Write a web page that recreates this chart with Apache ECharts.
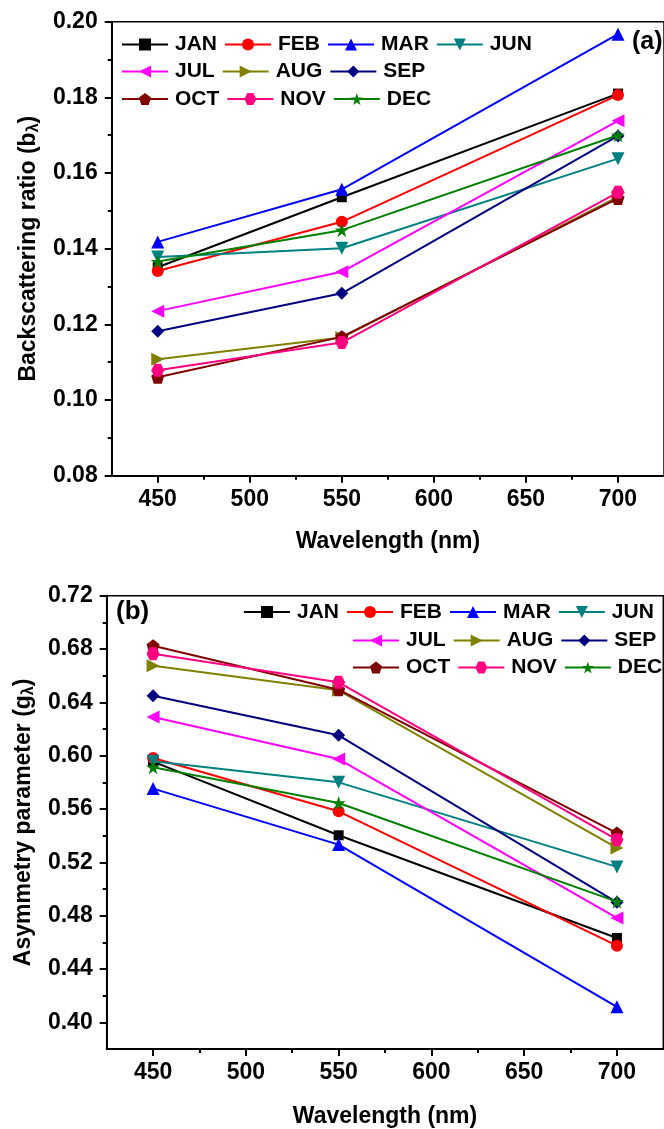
<!DOCTYPE html>
<html>
<head>
<meta charset="utf-8">
<script src="https://cdn.jsdelivr.net/npm/echarts@6/dist/echarts.min.js"></script>
<style>html,body{margin:0;padding:0;background:#fff}#c{width:664px;height:1129px}</style>
</head>
<body>
<div id="c"></div>
<script>
// ---- data ----
const wavelengths = [450, 550, 700];
const months = ['JAN','FEB','MAR','JUN','JUL','AUG','SEP','OCT','NOV','DEC'];
const xTickLabels = [450, 500, 550, 600, 650, 700];
const xMinorTicks = [475, 525, 575, 625, 675];
const yTicksA = [0.08, 0.10, 0.12, 0.14, 0.16, 0.18, 0.20];
const yTicksB = [0.40, 0.44, 0.48, 0.52, 0.56, 0.60, 0.64, 0.68, 0.72];
const yMinorB = [0.42, 0.46, 0.50, 0.54, 0.58, 0.62, 0.66, 0.70];

// Backscattering ratio (panel a)
const bJAN = [0.1351, 0.1536, 0.1810];
const bFEB = [0.1341, 0.1471, 0.1806];
const bMAR = [0.1418, 0.1557, 0.1967];
const bJUN = [0.1378, 0.1401, 0.1638];
const bJUL = [0.1235, 0.1339, 0.1738];
const bAUG = [0.1108, 0.1165, 0.1537];
const bSEP = [0.1182, 0.1282, 0.1698];
const bOCT = [0.1060, 0.1167, 0.1533];
const bNOV = [0.1079, 0.1152, 0.1549];
const bDEC = [0.1366, 0.1449, 0.1700];

// Asymmetry parameter (panel b)
const gJAN = [0.5955, 0.5403, 0.4633];
const gFEB = [0.5983, 0.5583, 0.4575];
const gMAR = [0.5753, 0.5333, 0.4116];
const gJUN = [0.5958, 0.5800, 0.5166];
const gJUL = [0.6290, 0.5975, 0.4783];
const gAUG = [0.6675, 0.6490, 0.5308];
const gSEP = [0.6450, 0.6153, 0.4900];
const gOCT = [0.6825, 0.6495, 0.5420];
const gNOV = [0.6765, 0.6550, 0.5370];
const gDEC = [0.5913, 0.5645, 0.4905];

const bVals = [bJAN,bFEB,bMAR,bJUN,bJUL,bAUG,bSEP,bOCT,bNOV,bDEC];
const gVals = [gJAN,gFEB,gMAR,gJUN,gJUL,gAUG,gSEP,gOCT,gNOV,gDEC];

// ---- styles ----
const FONT = "'Liberation Sans', Arial, sans-serif";
const colors = ['#000000','#ff0000','#0000ff','#008080','#ff00ff','#808000','#000080','#800000','#ff0080','#008000'];
const PENT = 'path://M50,0L97.55,34.55L79.39,90.45L20.61,90.45L2.45,34.55Z';
const HEX = 'path://M25,0L75,0L100,43.3L75,86.6L25,86.6L0,43.3Z';
const STAR = 'path://M50,0L61.2,34.5L97.6,34.5L68.2,55.9L79.4,90.5L50,69.1L20.6,90.5L31.8,55.9L2.4,34.5L38.8,34.5Z';
const symbols = ['rect','circle','triangle','triangle','triangle','triangle','diamond',PENT,HEX,STAR];
const rotates = [0,0,0,180,90,-90,0,0,0,0];
const sizes = [10,12,13,13,13,13,13,13,13,14];

function mkSeries(vals, gi) {
  return months.map((m, i) => ({
    name: m, type: 'line', xAxisIndex: gi*2, yAxisIndex: gi*2,
    data: wavelengths.map((w, k) => [w, vals[i][k]]),
    symbol: symbols[i], symbolRotate: rotates[i], symbolSize: sizes[i],
    lineStyle: {color: colors[i], width: 2},
    itemStyle: {color: colors[i]},
    z: 3 + i
  }));
}

const axisFont = {fontFamily: FONT, fontWeight: 'bold', fontSize: 23, color: '#000'};
const nameFont = {fontFamily: FONT, fontWeight: 'bold', fontSize: 23, color: '#000'};

function xAxes(gi, gap) {
  return [{
    gridIndex: gi, type: 'value', min: 425, max: 725, interval: 25,
    axisLine: {show: true, lineStyle: {color: '#000', width: 2}},
    axisTick: {show: true, inside: false, length: 7, lineStyle: {width: 2, color: '#000'}, customValues: xTickLabels},
    axisLabel: Object.assign({margin: 12, customValues: xTickLabels, formatter: v => String(v)}, axisFont),
    splitLine: {show: false},
    name: 'Wavelength (nm)', nameLocation: 'middle', nameGap: gap,
    nameTextStyle: nameFont
  }, {
    gridIndex: gi, type: 'value', min: 425, max: 725, interval: 25, position: 'bottom',
    axisLine: {show: false},
    axisTick: {show: true, length: 4, lineStyle: {width: 2, color: '#000'}, customValues: xMinorTicks},
    axisLabel: {show: false}, splitLine: {show: false}
  }];
}

const subRich = {s: {fontFamily: FONT, fontWeight: 'bold', fontSize: 16, color: '#000', padding: [10, 0, 0, 0]}};

const option = {
  animation: false,
  backgroundColor: '#fff',
  grid: [
    {left: 111.7, top: 21.7, width: 556.3, height: 454, show: true, borderColor: '#000', borderWidth: 1.5, backgroundColor: 'transparent', containLabel: false},
    {left: 106.7, top: 595.7, width: 556.6, height: 453.6, show: true, borderColor: '#000', borderWidth: 1.5, backgroundColor: 'transparent', containLabel: false}
  ],
  xAxis: [].concat(xAxes(0, 54), xAxes(1, 56)),
  yAxis: [
    {
      gridIndex: 0, type: 'value', min: 0.08, max: 0.20, interval: 0.02,
      axisLine: {show: true, lineStyle: {color: '#000', width: 2}},
      axisTick: {show: true, length: 7, lineStyle: {width: 2, color: '#000'}, customValues: yTicksA},
      minorTick: {show: true, splitNumber: 2, length: 4, lineStyle: {width: 2, color: '#000'}},
      axisLabel: Object.assign({margin: 14, customValues: yTicksA, formatter: v => v.toFixed(2)}, axisFont),
      splitLine: {show: false}, minorSplitLine: {show: false},
      name: 'Backscattering ratio (b{s|λ})', nameLocation: 'middle', nameGap: 68,
      nameTextStyle: Object.assign({rich: subRich}, nameFont)
    },
    {
      gridIndex: 0, type: 'value', min: 0.08, max: 0.20, show: false
    },
    {
      gridIndex: 1, type: 'value', min: 0.38, max: 0.72, interval: 0.02,
      axisLine: {show: true, lineStyle: {color: '#000', width: 2}},
      axisTick: {show: true, length: 7, lineStyle: {width: 2, color: '#000'}, customValues: yTicksB},
      axisLabel: Object.assign({margin: 14, customValues: yTicksB, formatter: v => v.toFixed(2)}, axisFont),
      splitLine: {show: false},
      name: 'Asymmetry parameter (g{s|λ})', nameLocation: 'middle', nameGap: 66,
      nameTextStyle: Object.assign({rich: subRich}, nameFont)
    },
    {
      gridIndex: 1, type: 'value', min: 0.38, max: 0.72, interval: 0.02, position: 'left',
      axisLine: {show: false},
      axisTick: {show: true, length: 4, lineStyle: {width: 2, color: '#000'}, customValues: yMinorB},
      axisLabel: {show: false}, splitLine: {show: false}
    }
  ],
  legend: [
    {data: months.slice(0,4), left: 121, top: 34},
    {data: months.slice(4,7), left: 121, top: 61},
    {data: months.slice(7,10), left: 121, top: 88.5},
    {data: months.slice(0,4), left: 243, top: 601.5},
    {data: months.slice(4,7), left: 352, top: 630},
    {data: months.slice(7,10), left: 352, top: 657}
  ].map(l => Object.assign({
    orient: 'horizontal', padding: 0, itemGap: 7, itemWidth: 46, itemHeight: 15, width: 600,
    textStyle: {fontFamily: FONT, fontWeight: 'bold', fontSize: 21, color: '#000', padding: [0,0,0,2]},
    selectedMode: false
  }, l)),
  graphic: [
    {type: 'text', left: 632, top: 30, style: {text: '(a)', fontFamily: FONT, fontWeight: 'bold', fontSize: 25, fill: '#000'}},
    {type: 'text', left: 116, top: 599, style: {text: '(b)', fontFamily: FONT, fontWeight: 'bold', fontSize: 26, fill: '#000'}}
  ],
  series: [].concat(mkSeries(bVals, 0), mkSeries(gVals, 1))
};

const chart = echarts.init(document.getElementById('c'), null, {renderer: 'canvas'});
chart.setOption(option);
</script>
</body>
</html>
